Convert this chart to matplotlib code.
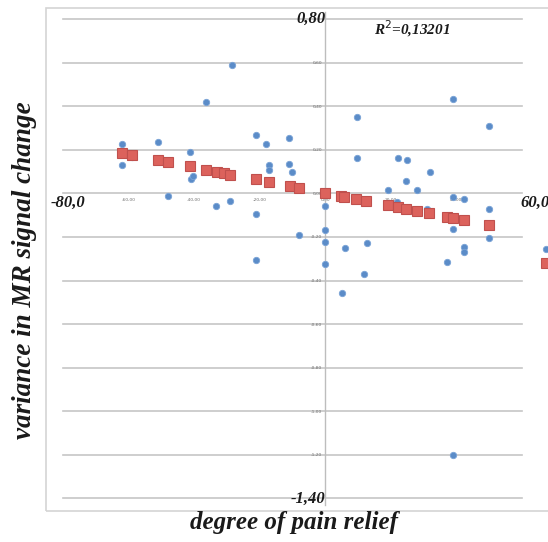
import matplotlib
matplotlib.use("Agg")
import matplotlib.pyplot as plt
from matplotlib.patches import Rectangle
from matplotlib.ticker import FixedLocator, FuncFormatter

# Degree of pain relief (%) vs. variance in MR signal change
relief = [-62, -62, -59, -51, -48, -41.3, -41, -40.5, -36.3, -33.2, -29, -28.4,
          -21.1, -21.1, -21.1, -18, -17.1, -17.1, -11.2, -11.2, -10.2, -8.1,
          0, 0, 0, 0, 5, 6, 9.6, 9.6, 11.9, 12.7, 19, 22.2, 25, 24.7, 28.1, 22,
          31.9, 31.1, 39, 39, 42.2, 39, 37, 39, 42.2, 42.2, 50, 50, 50]
signal = [0.225, 0.13, 0.165, 0.234, -0.01, 0.188, 0.067, 0.08, 0.42, -0.06, -0.035, 0.59,
          0.27, -0.093, -0.304, 0.228, 0.128, 0.105, 0.254, 0.136, 0.098, -0.193,
          -0.06, -0.167, -0.223, -0.326, -0.456, -0.25, 0.35, 0.162, -0.368, -0.226, 0.017, 0.163, 0.155, 0.055, 0.017, -0.04,
          0.098, -0.07, 0.431, -0.017, -0.024, -0.162, -0.315, -1.2, -0.246, -0.27, 0.31, -0.07, -0.203]

# Linear trend values at the observed relief levels
trend_x = [-62, -59, -51, -48, -41.3, -36.3, -33, -31, -29.2, -21.1, -17.1, -10.7, -8.1,
           0, 4.7, 5.8, 9.3, 12.4, 19, 22.2, 24.7, 28.1, 31.7, 37, 39, 42.2, 50]
trend_y = [0.185, 0.178, 0.152, 0.144, 0.124, 0.107, 0.099, 0.093, 0.086, 0.064, 0.052, 0.033, 0.024,
           0.0, -0.013, -0.016, -0.027, -0.036, -0.055, -0.064, -0.071, -0.081, -0.092, -0.108, -0.114, -0.123, -0.146]

r_squared = "0,13201"
y_ticks = [0.8, 0.6, 0.4, 0.2, 0.0, -0.2, -0.4, -0.6, -0.8, -1.0, -1.2, -1.4]
x_ticks = [-80, -60, -40, -20, 0, 20, 40, 60]

W, H = 548, 542
fig = plt.figure(figsize=(W / 100, H / 100), dpi=100)
fig.patch.set_facecolor("white")

# outer chart-area frame
fig.patches.append(Rectangle((46 / W, 1 - 511 / H), 520 / W, 503 / H,
                             transform=fig.transFigure, fill=False,
                             edgecolor="#d4d4d4", linewidth=1.2))

ax = fig.add_axes([63 / W, 1 - 498.5 / H, 459 / W, 479.5 / H])
ax.set_xlim(-80, 60)
ax.set_ylim(-1.4, 0.8)
ax.set_facecolor("none")

serif_bi = dict(family="Liberation Serif", weight="bold", style="italic", color="#1a1a1a")

# axes cross at the origin
for s in ("top", "right", "bottom"):
    ax.spines[s].set_visible(False)
ax.spines["left"].set_position(("data", 0))
ax.spines["left"].set_color("#bdbdbd")
ax.spines["left"].set_linewidth(1.0)
ax.spines["left"].set_bounds(-1.43, 0.83)
ax.spines["left"].set_clip_on(False)

ax.yaxis.set_major_locator(FixedLocator(y_ticks))
ax.xaxis.set_major_locator(FixedLocator(x_ticks))
ax.tick_params(length=0)
ax.tick_params(axis="y", pad=2, labelsize=3.2, labelcolor="#707070")
ax.tick_params(axis="x", pad=3, labelsize=3.2, labelcolor="#707070")
ax.xaxis.set_ticks_position("bottom")
ax.spines["bottom"].set_position(("data", 0))


def fmt_y(v, _):
    if abs(v - 0.8) < 1e-9 or abs(v + 1.4) < 1e-9:
        return ""
    return f"{v:.2f}".replace(".", ",")


def fmt_x(v, _):
    if v in (-80, 60):
        return ""
    return f"{v:.2f}".replace(".", ",")


ax.yaxis.set_major_formatter(FuncFormatter(fmt_y))
ax.xaxis.set_major_formatter(FuncFormatter(fmt_x))

ax.grid(axis="y", color="#c6c6c6", linewidth=1.2)
ax.grid(axis="x", visible=False)
for gl in ax.get_ygridlines():
    gl.set_clip_on(False)

# data
pts, = ax.plot(relief, signal, linestyle="none", marker="o", markersize=4.6,
               markerfacecolor="#5b8cc8", markeredgecolor="#7aa3d6", markeredgewidth=0.6,
               clip_on=False, zorder=3)
fit, = ax.plot(trend_x, trend_y, linestyle="none", marker="s", markersize=6.8,
               markerfacecolor="#dc625c", markeredgecolor="#c0504d", markeredgewidth=0.8,
               clip_on=False, zorder=4)

# end-of-axis labels
ax.text(0, 0.8, "0,80", ha="right", va="center", fontsize=12, **serif_bi)
ax.text(0, -1.4, "-1,40", ha="right", va="center", fontsize=12, **serif_bi)
ax.annotate("-80,0", xy=(-80, 0), xytext=(5, -10), textcoords="offset pixels",
            ha="center", va="center", fontsize=12, **serif_bi, annotation_clip=False)
ax.annotate("60,0", xy=(60, 0), xytext=(-2, -10), textcoords="offset pixels",
            ha="left", va="center", fontsize=12, **serif_bi, annotation_clip=False)

ax.text(412 / W, 1 - 29 / H, "R$^{2}$=" + r_squared, transform=fig.transFigure,
        ha="center", va="center", fontsize=11, **serif_bi)

fig.text(294 / W, 1 - 522 / H, "degree of pain relief", ha="center", va="center",
         fontsize=18, **serif_bi)
fig.text(25 / W, 1 - 270 / H, "variance in MR signal change", ha="center", va="center",
         rotation=90, fontsize=19.5, **serif_bi)

# legend keys sit at the right edge of the chart area
ax.legend([pts, fit], ["", ""], loc="upper left", bbox_to_anchor=(540 / W, 1 - 245 / H),
          bbox_transform=fig.transFigure, frameon=False, borderpad=0,
          borderaxespad=0, handlelength=1.0, handletextpad=0.4,
          labelspacing=0.35, fontsize=8)

fig.savefig("out.png", dpi=100)
